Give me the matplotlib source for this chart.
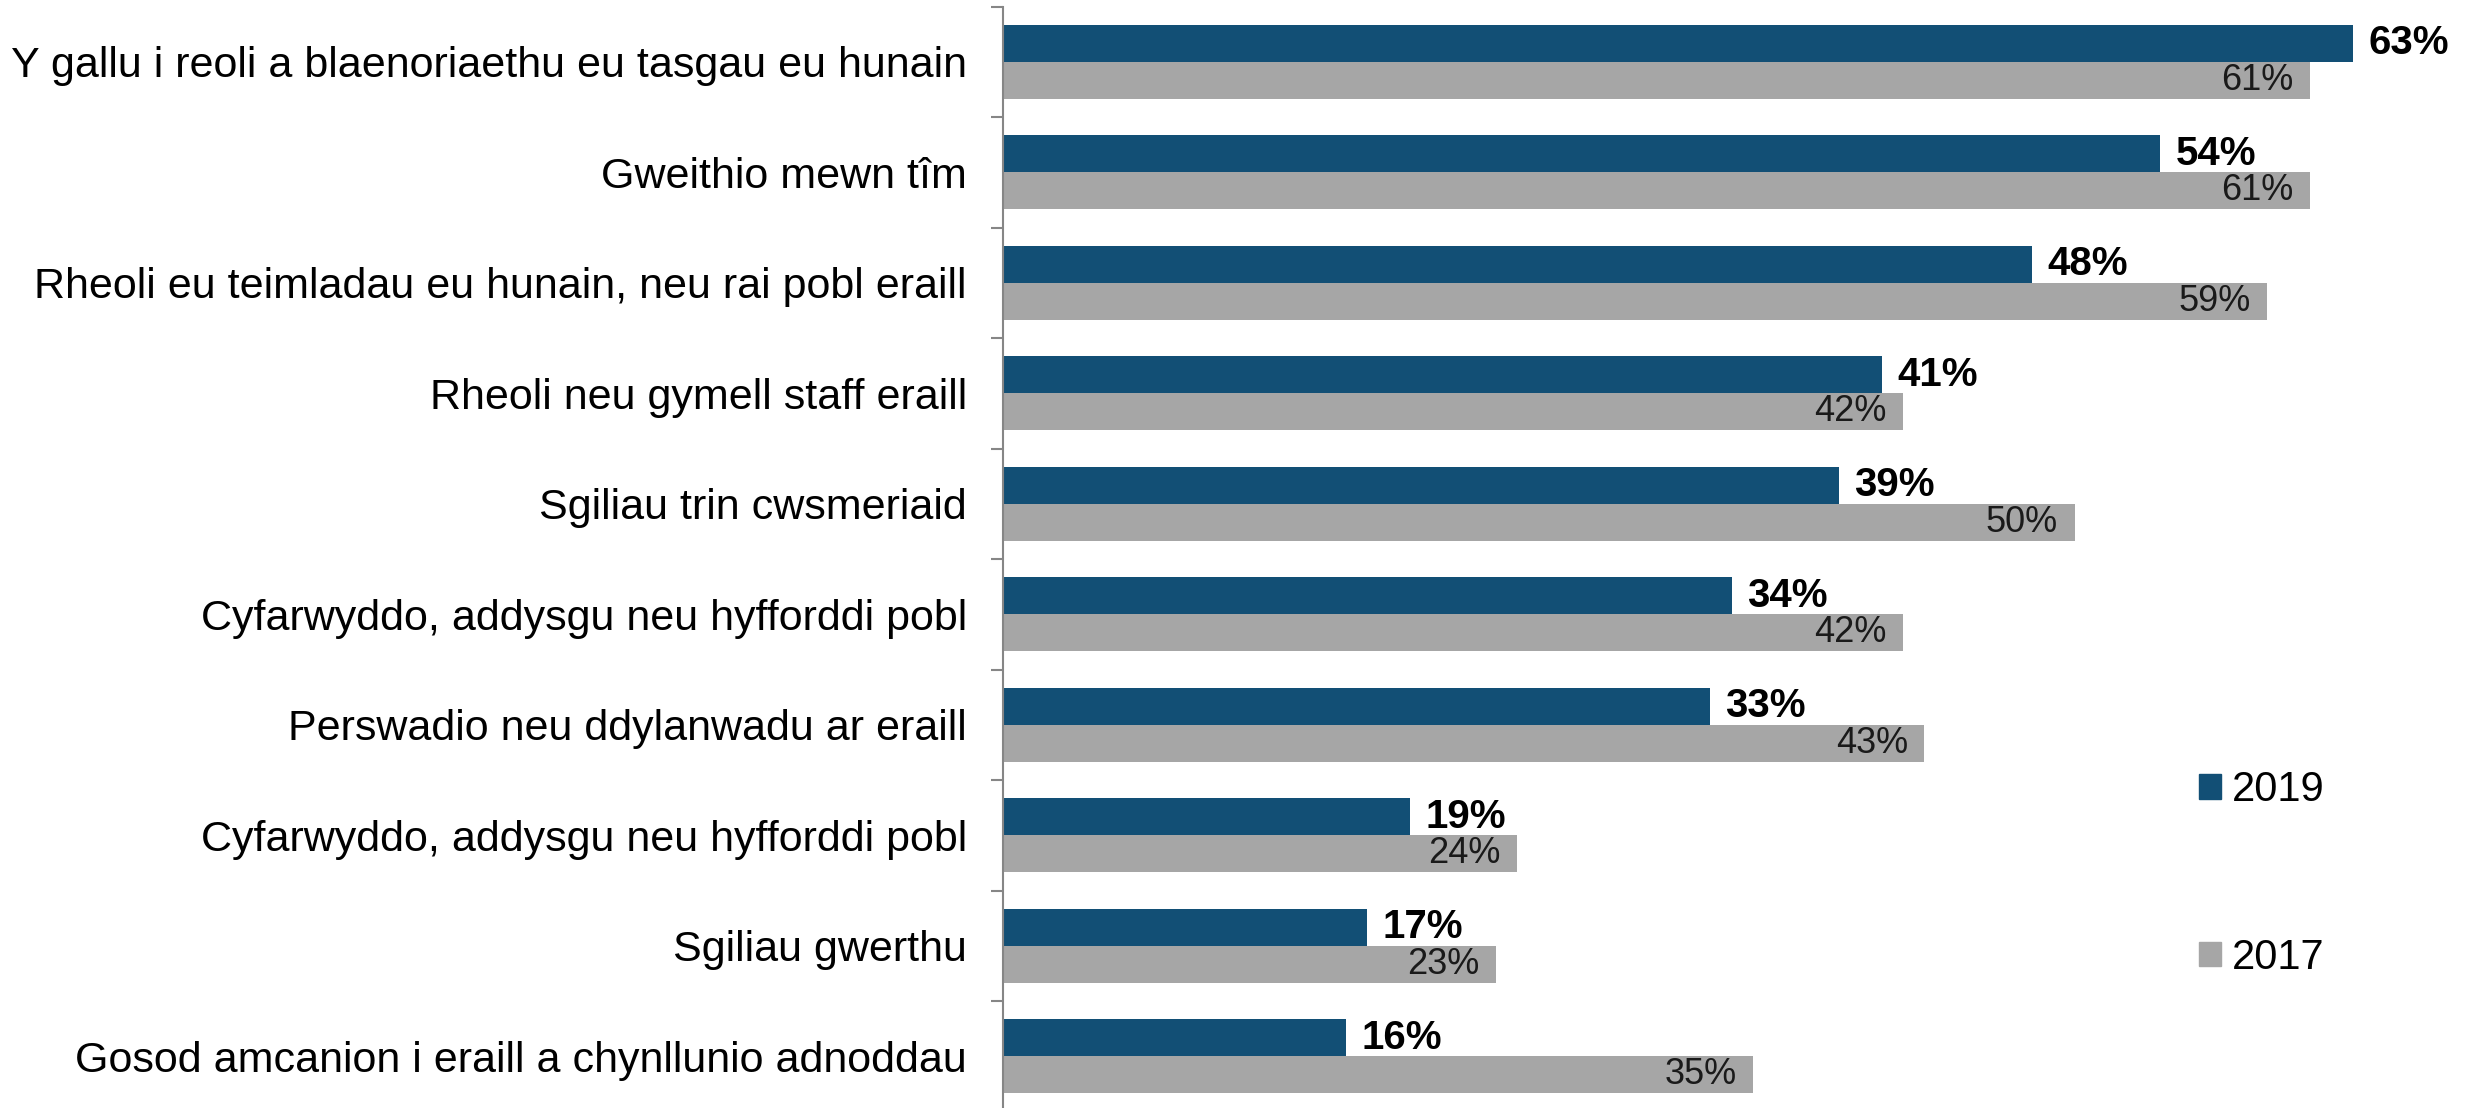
import numpy as np
import matplotlib.pyplot as plt
from matplotlib.patches import Patch

plt.rcParams['font.family'] = ['Liberation Sans', 'DejaVu Sans']

categories = [
    "Y gallu i reoli a blaenoriaethu eu tasgau eu hunain",
    "Gweithio mewn tîm",
    "Rheoli eu teimladau eu hunain, neu rai pobl eraill",
    "Rheoli neu gymell staff eraill",
    "Sgiliau trin cwsmeriaid",
    "Cyfarwyddo, addysgu neu hyfforddi pobl",
    "Perswadio neu ddylanwadu ar eraill",
    "Cyfarwyddo, addysgu neu hyfforddi pobl",
    "Sgiliau gwerthu",
    "Gosod amcanion i eraill a chynllunio adnoddau",
]
vals_2019 = [63, 54, 48, 41, 39, 34, 33, 19, 17, 16]
vals_2017 = [61, 61, 59, 42, 50, 42, 43, 24, 23, 35]

blue = "#124f75"
grey = "#a6a6a6"

W, H = 2473, 1108
fig = plt.figure(figsize=(W / 100, H / 100), dpi=100)
ax = fig.add_axes([1003 / W, -3.5 / H, 1470 / W, 1105 / H])

y = np.arange(len(categories))
h = 0.335
ax.barh(y - h / 2, vals_2019, height=h, color=blue, label="2019")
ax.barh(y + h / 2, vals_2017, height=h, color=grey, label="2017")

for yi, v in zip(y, vals_2019):
    ax.annotate(f"{v}%", (v, yi - h / 2), xytext=(11, 0), textcoords="offset points",
                ha="left", va="center", fontsize=29, fontweight="bold", color="black")
for yi, v in zip(y, vals_2017):
    ax.annotate(f"{v}%", (v, yi + h / 2), xytext=(-12, 0), textcoords="offset points",
                ha="right", va="center", fontsize=26, color="#1a1a1a")

ax.set_xlim(0, 1470 / 21.43)
ax.set_ylim(len(categories) - 0.5, -0.5)
ax.set_yticks(y)
ax.set_yticklabels(categories, fontsize=31)
ax.set_yticks(np.arange(len(categories) + 1) - 0.5, minor=True)
ax.tick_params(axis="y", which="major", length=0, pad=26)
ax.tick_params(axis="y", which="minor", length=8.6, width=1.5, color="#868686", direction="out")
ax.set_xticks([])
for s in ["top", "right", "bottom"]:
    ax.spines[s].set_visible(False)
ax.spines["left"].set_color("#868686")
ax.spines["left"].set_linewidth(1.5)

handles = [Patch(color=blue), Patch(color=grey)]
fig.legend(handles, ["2019", "2017"], loc="center left",
           bbox_to_anchor=(2199 / W, 1 - 874 / H), frameon=False, fontsize=30,
           handlelength=0.53, handleheight=0.53, handletextpad=0.26,
           labelspacing=3.05, borderpad=0, borderaxespad=0)

fig.savefig("out.png", dpi=100)
